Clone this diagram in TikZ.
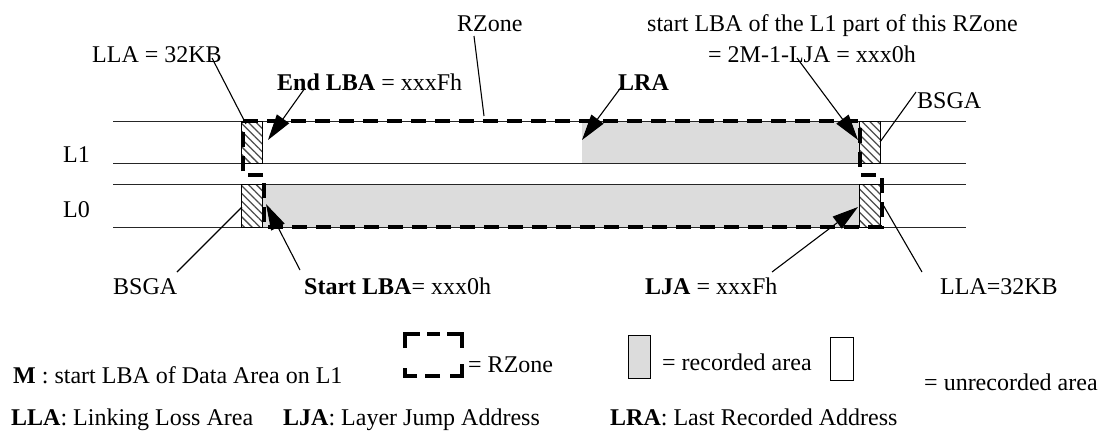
\documentclass[tikz,border=0pt]{standalone}
\usepackage{fontspec}
\setmainfont{Liberation Serif}
\usetikzlibrary{arrows.meta,patterns.meta}
\definecolor{recgray}{HTML}{DCDCDC}
\begin{document}
\begin{tikzpicture}[x=1pt,y=-1pt,
  lbl/.style={inner sep=0pt, anchor=base west, font=\fontsize{24}{28}\selectfont},
  track/.style={line width=1pt, draw=black!85},
  hatch/.style={draw=black, line width=0.8pt, pattern={Lines[angle=-45,distance=5.5pt,line width=1.3pt]}, pattern color=black!70},
  rec/.style={fill=recgray},
  rzone/.style={line width=4pt, dash pattern=on 15pt off 9pt},
  rzsolid/.style={line width=4pt},
  ptr/.style={line width=1.1pt},
  bigarrow/.style={ptr, -{Triangle[length=26pt,width=15pt]}}
]
\useasboundingbox (0,0) rectangle (1099,434);
% recorded areas
\fill[rec] (582,121) rectangle (859,163);
\fill[rec] (262,184) rectangle (859,227);
% tracks
\draw[track] (113,121) -- (966,121);
\draw[track] (113,163) -- (966,163);
\draw[track] (113,184) -- (966,184);
\draw[track] (113,227) -- (966,227);
% hatched LLA/BSGA boxes
\draw[hatch] (241,121) rectangle (262,163);
\draw[hatch] (241,184) rectangle (262,227);
\draw[hatch] (859,121) rectangle (880,163);
\draw[hatch] (859,184) rectangle (880,227);
% RZone outline
\draw[rzone] (243,121) -- (860,121) -- (860,175) -- (882,175) -- (882,227) -- (264,227) -- (264,175) -- (243,175) -- cycle;
% labels
\node[lbl] (lla1) at (92,62) {LLA = 32KB};
\node[lbl] (rz) at (457,31) {RZone};
\node[lbl] (end) at (277,90) {\textbf{End LBA} = xxxFh};
\node[lbl] (lra) at (618,90) {\textbf{LRA}};
\node[lbl] (st1) at (647,31) {start LBA of the L1 part of this RZone};
\node[lbl] (st2) at (708,62) {= 2M-1-LJA = xxx0h};
\node[lbl] (bsga1) at (917,108) {BSGA};
\node[lbl] (l1) at (63,162) {L1};
\node[lbl] (l0) at (63,217) {L0};
\node[lbl] (bsga0) at (113,294) {BSGA};
\node[lbl] (start) at (304,294) {\textbf{Start LBA}= xxx0h};
\node[lbl] (lja) at (645,294) {\textbf{LJA} = xxxFh};
\node[lbl] (lla0) at (940,294) {LLA=32KB};
% connector end points
\coordinate (lla1s) at (212,58);  \coordinate (lla1e) at (246,124);
\coordinate (rzs) at (474,36);    \coordinate (rze) at (484,116);
\coordinate (ends) at (305,88);   \coordinate (ende) at (268,140);
\coordinate (lras) at (622,86);   \coordinate (lrae) at (582,140);
\coordinate (st2s) at (797,58);   \coordinate (st2e) at (858,140);
\coordinate (bs1s) at (916,92);   \coordinate (bs1e) at (880,142);
\coordinate (bs0s) at (177,272);  \coordinate (bs0e) at (242,207);
\coordinate (sts) at (300,270);   \coordinate (ste) at (266,204);
\coordinate (ljas) at (772,272);  \coordinate (ljae) at (858,207);
\coordinate (ll0s) at (922,272);  \coordinate (ll0e) at (882,203);
\draw[ptr] (lla1s) -- (lla1e);
\draw[ptr] (rzs) -- (rze);
\draw[bigarrow] (ends) -- (ende);
\draw[bigarrow] (lras) -- (lrae);
\draw[bigarrow] (st2s) -- (st2e);
\draw[ptr] (bs1s) -- (bs1e);
\draw[ptr] (bs0s) -- (bs0e);
\draw[bigarrow] (sts) -- (ste);
\draw[bigarrow] (ljas) -- (ljae);
\draw[ptr] (ll0s) -- (ll0e);
% legend
\node[lbl] (m) at (13,383) {\textbf{M} : start LBA of Data Area on L1};
\draw[rzsolid] (405,348) -- (405,334) -- (420,334);
\draw[rzsolid] (427,334) -- (440,334);
\draw[rzsolid] (447,334) -- (462,334) -- (462,348);
\draw[rzsolid] (462,364) -- (462,376) -- (450,376);
\draw[rzsolid] (440,376) -- (425,376);
\draw[rzsolid] (417,376) -- (405,376) -- (405,368);
\node[lbl] (eqrz) at (468,372) {= RZone};
\draw[rec, draw=black, line width=0.8pt] (628,335) rectangle (650,378);
\node[lbl] (eqrec) at (662,370) {= recorded area};
\draw[line width=0.8pt] (830,337) rectangle (853,380);
\node[lbl] (equnrec) at (924,390) {= unrecorded area};
\node[lbl] (llal) at (11,425) {\textbf{LLA}: Linking Loss Area};
\node[lbl] (ljal) at (283,425) {\textbf{LJA}: Layer Jump Address};
\node[lbl] (lral) at (610,425) {\textbf{LRA}: Last Recorded Address};
\end{tikzpicture}
\end{document}
